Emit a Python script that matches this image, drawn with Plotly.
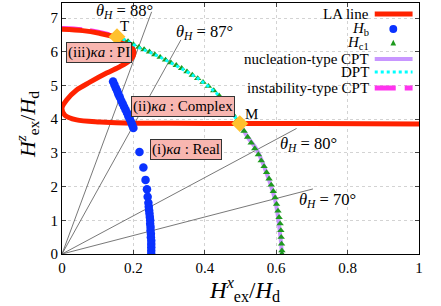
import math
import plotly.graph_objects as go

# LA line (red S-curve)
la_x = [0.0, 0.058, 0.105, 0.153, 0.181, 0.198, 0.2, 0.185, 0.162, 0.125, 0.078, 0.041, 0.013, 0.0, 0.008, 0.041, 0.106, 0.2, 0.3, 0.5, 0.7, 1.0]
la_y = [6.67, 6.63, 6.55, 6.43, 6.27, 6.11, 5.9, 5.7, 5.56, 5.37, 5.1, 4.87, 4.57, 4.33, 4.12, 3.98, 3.92, 3.88, 3.88, 3.87, 3.87, 3.86]

# instability-type CPT (upper LA branch up to T)
pi_x = [0.0, 0.058, 0.105, 0.153]
pi_y = [6.71, 6.67, 6.59, 6.47]

# H_b points
hb_x = [0.143, 0.147, 0.151, 0.155, 0.158, 0.162, 0.166, 0.170, 0.174, 0.178, 0.182, 0.186, 0.190, 0.194, 0.197, 0.200,
        0.217, 0.228, 0.234, 0.238, 0.240, 0.242, 0.243, 0.244, 0.245, 0.246, 0.247, 0.247, 0.248, 0.248, 0.249, 0.249,
        0.250, 0.250, 0.250, 0.250, 0.250]
hb_y = [5.12, 5.02, 4.92, 4.83, 4.74, 4.65, 4.55, 4.46, 4.37, 4.28, 4.19, 4.09, 4.00, 3.90, 3.82, 3.74,
        3.03, 2.57, 2.20, 1.92, 1.70, 1.52, 1.40, 1.30, 1.20, 1.10, 1.00, 0.90, 0.80, 0.70, 0.60, 0.50,
        0.40, 0.30, 0.20, 0.10, 0.00]

# H_c1 points
hc_x = [0.17, 0.185, 0.20, 0.215, 0.23, 0.245, 0.26, 0.275, 0.29, 0.305, 0.32, 0.335, 0.35, 0.365, 0.38, 0.395,
        0.41, 0.425, 0.44, 0.455, 0.468, 0.48, 0.49, 0.50, 0.51, 0.52, 0.53, 0.54, 0.55, 0.558, 0.566, 0.573,
        0.58, 0.586, 0.592, 0.597, 0.601, 0.605, 0.608, 0.611, 0.613, 0.614, 0.615, 0.616, 0.616]
hc_y = [6.38, 6.31, 6.22, 6.14, 6.07, 6.00, 5.92, 5.84, 5.76, 5.68, 5.60, 5.51, 5.41, 5.31, 5.21, 5.10,
        4.98, 4.85, 4.70, 4.52, 4.33, 4.13, 3.97, 3.82, 3.65, 3.47, 3.30, 3.13, 2.95, 2.77, 2.60, 2.42,
        2.23, 2.05, 1.86, 1.67, 1.48, 1.28, 1.09, 0.90, 0.70, 0.50, 0.30, 0.10, 0.00]

# DPT (T -> M)
dpt_x = [0.154, 0.185, 0.213, 0.26, 0.30, 0.35, 0.387, 0.433, 0.455, 0.468, 0.48, 0.498]
dpt_y = [6.45, 6.31, 6.14, 5.92, 5.70, 5.41, 5.16, 4.77, 4.52, 4.33, 4.13, 3.87]

# nucleation-type CPT (M -> bottom)
nuc_x = [0.498, 0.52, 0.546, 0.566, 0.583, 0.597, 0.605, 0.612, 0.616]
nuc_y = [3.87, 3.47, 3.09, 2.60, 2.10, 1.60, 1.10, 0.50, 0.00]

# special points T and M
pt_names = ["T", "M"]
pt_x = [0.154, 0.498]
pt_y = [6.45, 3.87]

# field-angle guide lines
theta_deg = [88, 87, 80, 70]
theta_xend = [0.251, 0.333, 0.657, 0.703]
theta_lab_x = [0.176, 0.40, 0.691, 0.744]
theta_lab_y = [7.21, 6.59, 3.27, 1.61]

x_ticks = [0, 0.2, 0.4, 0.6, 0.8, 1]
x_ticktext = ["0", "0.2", "0.4", "0.6", "0.8", "1"]
y_ticks = [0, 1, 2, 3, 4, 5, 6, 7]

FONT = "Liberation Serif"
RED = "#ff2200"
BLUE = "#0a32ff"
GREEN = "#1e9a1e"
PURPLE = "#c896ff"
CYAN = "#00ffff"
MAGENTA = "#ff33ee"
GOLD = "#ffc12e"
PINK = "#f8b6b0"

fig = go.Figure()

for th, xe in zip(theta_deg, theta_xend):
    fig.add_trace(go.Scatter(x=[0, xe], y=[0, math.tan(math.radians(th)) * xe], mode="lines",
                             line=dict(color="#555555", width=0.8), showlegend=False, hoverinfo="skip"))

fig.add_trace(go.Scatter(x=pi_x, y=pi_y, mode="lines",
                         line=dict(color=MAGENTA, width=4, dash="20px,8px", shape="spline"), showlegend=False))
fig.add_trace(go.Scatter(x=la_x, y=la_y, mode="lines", line=dict(color=RED, width=5, shape="spline", smoothing=0.8),
                         showlegend=False))
fig.add_trace(go.Scatter(x=hb_x, y=hb_y, mode="markers", marker=dict(color=BLUE, size=8.5, line=dict(width=0)),
                         showlegend=False))
fig.add_trace(go.Scatter(x=nuc_x, y=nuc_y, mode="lines", line=dict(color=PURPLE, width=4, shape="spline"),
                         showlegend=False))
fig.add_trace(go.Scatter(x=hc_x, y=hc_y, mode="markers",
                         marker=dict(color=GREEN, size=6.5, symbol="triangle-up", line=dict(width=0)),
                         showlegend=False))
fig.add_trace(go.Scatter(x=dpt_x, y=dpt_y, mode="lines", line=dict(color=CYAN, width=3, dash="dot", shape="spline"),
                         showlegend=False))
fig.add_trace(go.Scatter(x=pt_x, y=pt_y, mode="markers",
                         marker=dict(color=GOLD, size=13, symbol="diamond", line=dict(width=0)), showlegend=False))

ann = []
for th, lx, ly in zip(theta_deg, theta_lab_x, theta_lab_y):
    ann.append(dict(x=lx, y=ly, xref="x", yref="y", showarrow=False,
                    text=f"<i>θ</i><sub><i>H</i></sub> = {th}°", font=dict(family=FONT, size=16.5, color="black")))
ann.append(dict(x=0.176, y=6.78, text="T", showarrow=False, font=dict(family=FONT, size=15, color="black")))
ann.append(dict(x=0.531, y=4.16, text="M", showarrow=False, font=dict(family=FONT, size=15, color="black")))

boxes = [("(iii)<i>κa</i> : PI", 0.103, 5.98), ("(ii)<i>κa</i> : Complex", 0.34, 4.38), ("(i)<i>κa</i> : Real", 0.347, 3.09)]
for t, bx, by in boxes:
    ann.append(dict(x=bx, y=by, text=t, showarrow=False, bgcolor=PINK, bordercolor="#333333", borderwidth=1,
                    borderpad=1, font=dict(family=FONT, size=15, color="black")))

# axis titles
ann.append(dict(x=0.51, y=-0.142, xref="paper", yref="paper", yanchor="middle", showarrow=False,
                text="<i>H</i><sup><i>x</i></sup><sub>ex</sub>/<i>H</i><sub>d</sub>",
                font=dict(family=FONT, size=23, color="black")))
ann.append(dict(x=-0.097, y=0.515, xref="paper", yref="paper", xanchor="center", yanchor="middle",
                showarrow=False, textangle=-90,
                text="<i>H</i><sup><i>z</i></sup><sub>ex</sub>/<i>H</i><sub>d</sub>",
                font=dict(family=FONT, size=22, color="black")))

# custom legend (text right-aligned, sample to the right)
leg_labels = ["LA line", "<i>H</i><sub>b</sub>", "<i>H</i><sub>c1</sub>", "nucleation-type CPT", "DPT",
              "instability-type CPT"]
leg_y = [0.9563, 0.8966, 0.8409, 0.7772, 0.7255, 0.6618]
for lab, ly in zip(leg_labels, leg_y):
    ann.append(dict(x=0.865, y=ly, xref="paper", yref="paper", xanchor="right", yanchor="middle", showarrow=False,
                    text=lab, font=dict(family=FONT, size=15, color="black")))

shapes = []
x0, x1 = 0.876, 0.982
shapes.append(dict(type="line", xref="paper", yref="paper", x0=x0, x1=x1, y0=leg_y[0], y1=leg_y[0],
                   line=dict(color=RED, width=5)))
xc = 0.928
shapes.append(dict(type="circle", xref="paper", yref="paper", x0=xc - 0.011, x1=xc + 0.011,
                   y0=leg_y[1] - 0.016, y1=leg_y[1] + 0.016, fillcolor=BLUE, line=dict(width=0)))
shapes.append(dict(type="path", xref="paper", yref="paper",
                   path=f"M {xc - 0.008} {leg_y[2] - 0.01} L {xc + 0.008} {leg_y[2] - 0.01} L {xc} {leg_y[2] + 0.013} Z",
                   fillcolor=GREEN, line=dict(width=0)))
shapes.append(dict(type="line", xref="paper", yref="paper", x0=x0, x1=x1, y0=leg_y[3], y1=leg_y[3],
                   line=dict(color=PURPLE, width=4)))
shapes.append(dict(type="line", xref="paper", yref="paper", x0=x0, x1=x1, y0=leg_y[4], y1=leg_y[4],
                   line=dict(color=CYAN, width=3, dash="dot")))
shapes.append(dict(type="line", xref="paper", yref="paper", x0=x0, x1=x1, y0=leg_y[5], y1=leg_y[5],
                   line=dict(color=MAGENTA, width=5, dash="21px,9px")))

fig.update_layout(
    width=441, height=306, margin=dict(l=62, r=22, t=3, b=52),
    plot_bgcolor="white", paper_bgcolor="white", showlegend=False,
    annotations=ann, shapes=shapes,
    font=dict(family=FONT, size=15, color="black"),
)
fig.update_xaxes(range=[0, 1], tickvals=x_ticks, ticktext=x_ticktext, ticks="inside", ticklen=4,
                 showline=True, linecolor="black", linewidth=1.2, mirror="ticks",
                 showgrid=True, gridcolor="#d3d3d3", griddash="dot", gridwidth=1, zeroline=False,
                 tickfont=dict(family=FONT, size=15, color="black"))
fig.update_yaxes(range=[0, 7.45], tickvals=y_ticks, ticks="inside", ticklen=4,
                 showline=True, linecolor="black", linewidth=1.2, mirror="ticks",
                 showgrid=True, gridcolor="#d3d3d3", griddash="dot", gridwidth=1, zeroline=False,
                 tickfont=dict(family=FONT, size=15, color="black"))

fig.write_html("out.html", config={"displayModeBar": False},
               post_script="document.body.style.margin='0';")
